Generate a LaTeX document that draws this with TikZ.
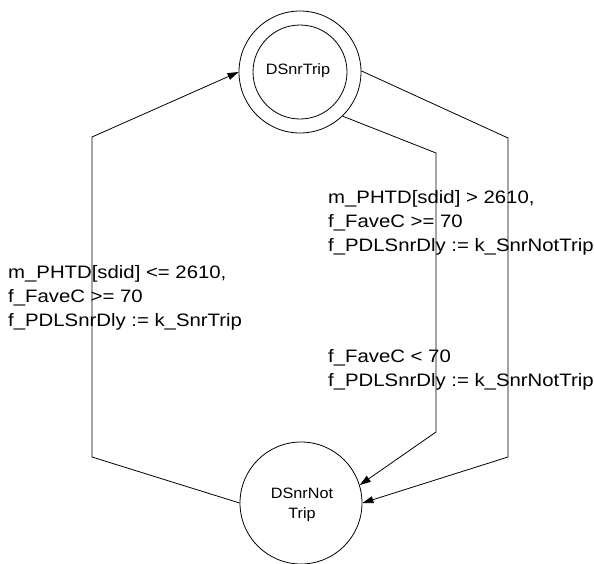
\documentclass[tikz,border=0pt]{standalone}
\usepackage{fontspec}
\setmainfont{Liberation Sans}
\newfontfamily\guardfont[FakeStretch=1.13]{Liberation Sans}
\newfontfamily\statefont[FakeStretch=1.08]{Liberation Sans}
\usetikzlibrary{arrows.meta}
\begin{document}
\begin{tikzpicture}[x=1pt,y=-1pt,
  wire/.style={line width=0.8pt, draw=black},
  tip/.style={wire, -{Triangle[length=11pt,width=7pt]}},
  statering/.style={circle, draw=black, line width=0.8pt, inner sep=0pt},
  statename/.style={font=\statefont\fontsize{15}{20}\selectfont, align=center, inner sep=0pt},
  guard/.style={font=\guardfont\fontsize{18}{24}\selectfont, anchor=base west, inner sep=0pt}]
  \useasboundingbox (0,0) rectangle (594,563);

  % states
  \node[statering, minimum size=122pt] (trip) at (300,72) {};
  \node[statering, minimum size=94pt] (tripin) at (300,72) {};
  \node[statename] (tripname) at (298,71) {DSnrTrip};
  \node[statering, minimum size=122pt] (nottrip) at (301,503) {};
  \node[statename] (nottripname) at (302,505) {DSnrNot\\Trip};

  % bend points of the transitions
  \coordinate (la) at (92,457);
  \coordinate (lb) at (92,137);
  \coordinate (oa) at (508,138);
  \coordinate (ob) at (508,457);
  \coordinate (ia) at (436,153);
  \coordinate (ib) at (436,432);

  % transitions
  \draw[tip] (nottrip.180) -- (la) -- (lb) -- (trip.180);
  \draw[tip] (trip.1) -- (oa) -- (ob) -- (nottrip.0);
  \draw[tip] (trip.314) -- (ia) -- (ib) -- (nottrip.17);

  % guards and actions
  \node[guard] (g1a) at (8,278) {m\_PHTD[sdid] <= 2610,};
  \node[guard] (g1b) at (8,302) {f\_FaveC >= 70};
  \node[guard] (g1c) at (8,326) {f\_PDLSnrDly := k\_SnrTrip};

  \node[guard] (g2a) at (328,203) {m\_PHTD[sdid] > 2610,};
  \node[guard] (g2b) at (328,227) {f\_FaveC >= 70};
  \node[guard] (g2c) at (328,251) {f\_PDLSnrDly := k\_SnrNotTrip};

  \node[guard] (g3a) at (328,362) {f\_FaveC < 70};
  \node[guard] (g3b) at (328,386) {f\_PDLSnrDly := k\_SnrNotTrip};
\end{tikzpicture}
\end{document}
